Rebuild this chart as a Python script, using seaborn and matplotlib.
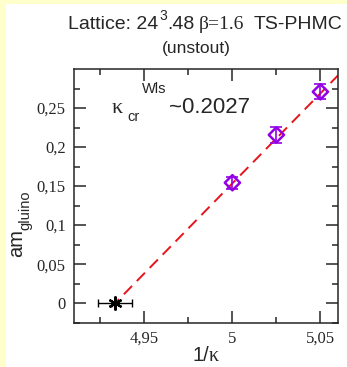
import numpy as np
import pandas as pd
import seaborn as sns
import matplotlib.pyplot as plt
from matplotlib.patches import Rectangle

# data
inv_kappa = [5.0, 5.025, 5.05]
am_gluino = [0.1543, 0.2156, 0.2708]
am_err = [0.0075, 0.0106, 0.0098]

kcr_x = [4.9334]
kcr_y = [0.0]
kcr_xerr = [0.0097]

fit_x = [4.931, 5.06]
fit_y = [-0.0055, 0.2918]

xtick_values = [4.95, 5.0, 5.05]
xtick_labels = ["4,95", "5", "5,05"]
ytick_values = [0, 0.05, 0.1, 0.15, 0.2, 0.25]
ytick_labels = ["0", "0,05", "0,1", "0,15", "0,2", "0,25"]

sns.set_style("ticks")
plt.rcParams['font.family'] = ['Liberation Sans', 'DejaVu Sans']

W, H = 347, 367
fig = plt.figure(figsize=(W / 100, H / 100), dpi=100, facecolor="#ffffcc")
fig.patches.append(Rectangle((6 / W, 0), 1, 1 - 4 / H, transform=fig.transFigure,
                             facecolor="white", edgecolor="none", zorder=-10))
ax = fig.add_axes([74 / W, 1 - 322.7 / H, (338 - 74) / W, (322.7 - 69) / H])
ax.set_facecolor("white")

purple = "#9400e6"
df = pd.DataFrame({"x": inv_kappa, "y": am_gluino})
fit = pd.DataFrame({"x": fit_x, "y": fit_y})

sns.lineplot(data=fit, x="x", y="y", ax=ax, color="#e8141c", lw=1.4,
             linestyle=(0, (6, 3.5)), zorder=2)
ax.errorbar(inv_kappa, am_gluino, yerr=am_err, fmt="none", ecolor=purple,
            elinewidth=1.2, capsize=4.5, capthick=1.2, zorder=3)
sns.scatterplot(data=df, x="x", y="y", ax=ax, marker="D", s=60,
                facecolor="none", edgecolor=purple, linewidth=1.8, zorder=4)
ax.errorbar(kcr_x, kcr_y, xerr=kcr_xerr, fmt="none", ecolor="black",
            elinewidth=1.0, capsize=3, capthick=1.0, zorder=3)
ax.plot(kcr_x, kcr_y, marker=(6, 2, 0), ms=10, mew=1.6, color="black",
        linestyle="none", zorder=5)

ax.set_xlim(4.91, 5.06)
ax.set_ylim(-0.025, 0.3)
ax.set_xticks(xtick_values)
ax.set_xticklabels(xtick_labels)
ax.set_yticks(ytick_values)
ax.set_yticklabels(ytick_labels)
ax.set_xticks([4.925, 4.975, 5.025], minor=True)
ax.set_yticks([-0.025, 0.025, 0.075, 0.125, 0.175, 0.225, 0.275], minor=True)
ax.tick_params(which="both", direction="in", top=True, right=True, width=1.1,
               labelsize=12, pad=6)
ax.tick_params(which="major", length=8.5)
ax.tick_params(which="minor", length=4.5)
for lab in ax.get_xticklabels() + ax.get_yticklabels():
    lab.set_family("Liberation Serif")
for s in ax.spines.values():
    s.set_linewidth(1.1)
    s.set_visible(True)
ax.set_xlabel("")
ax.set_ylabel("")

# axis labels
fig.text(192 / W, 1 - 361 / H, "1/", fontsize=14.5, va="baseline")
fig.text(209 / W, 1 - 361 / H, "κ", fontsize=14.5, va="baseline", family="Liberation Serif")
fig.text(7 / W, 1 - 257 / H, "am", fontsize=14.5, rotation=90, ha="left", va="bottom")
fig.text(18 / W, 1 - 230 / H, "gluino", fontsize=10.5, rotation=90, ha="left", va="bottom")

# annotation
fig.text(112 / W, 1 - 113 / H, "κ", fontsize=16, family="Liberation Serif", va="baseline")
fig.text(127 / W, 1 - 121 / H, "cr", fontsize=10.5, va="baseline")
fig.text(142 / W, 1 - 93 / H, "Wls", fontsize=10.5, va="baseline")
fig.text(169 / W, 1 - 113 / H, "~0.2027", fontsize=16, va="baseline")


# title, pieces chained one after another
def chain(prev, s, dx=0, dy=0, **kw):
    return fig.text(0, 0, s, transform=None, **kw) if prev is None else \
        ax.annotate(s, xy=(1, 0), xycoords=prev, xytext=(dx, dy),
                    textcoords="offset pixels", ha="left", va="bottom",
                    annotation_clip=False, **kw)


t1 = fig.text(68 / W, 1 - 29 / H, "Lattice: 24", fontsize=14, va="baseline")
t2 = chain(t1, "3", dx=1, dy=10, fontsize=10)
t3 = chain(t2, ".48", dx=0, dy=-10, fontsize=14)
t4 = chain(t3, "β=1.6", dx=5, dy=0, fontsize=14, family="Liberation Serif")
t5 = chain(t4, "TS-PHMC", dx=9, dy=0, fontsize=14)
fig.text(196 / W, 1 - 53 / H, "(unstout)", fontsize=12.5, ha="center", va="baseline")

fig.savefig("out.png", dpi=100, facecolor=fig.get_facecolor())
